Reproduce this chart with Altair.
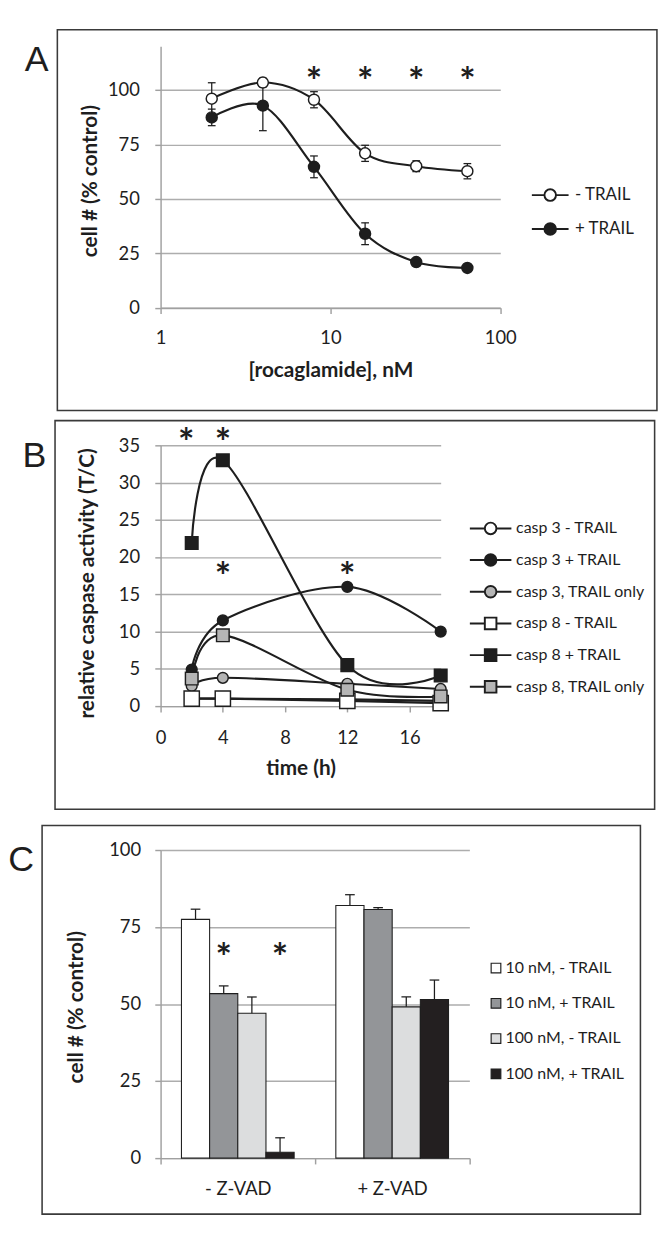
import altair as alt
import pandas as pd

FONT = "Lato"
INK = "#1e1e1e"
GRID = "#adadad"
AXC = "#a0a0a0"
BOX = "#3a3a3a"

# ---------------- Panel A data ----------------
rocaglamide_nm = [2, 4, 8, 16, 32, 64]
a_series = ["- TRAIL", "+ TRAIL"]
a_minus_trail = [96.0, 103.4, 95.5, 70.9, 65.0, 62.7]
a_minus_trail_err = [7.3, 2.0, 3.7, 3.7, 2.5, 3.5]
a_plus_trail = [87.4, 92.8, 64.7, 34.0, 21.0, 18.3]
a_plus_trail_err = [3.8, 11.5, 5.0, 5.0, 1.0, 1.0]
a_star_conc = [8, 16, 32, 64]
a_star_level = [107, 107, 107, 107]
a_x_ticks = [1, 10, 100]
a_y_ticks = [0, 25, 50, 75, 100]

# ---------------- Panel B data ----------------
time_h = [2, 4, 12, 18]
b_series = ["casp 3 - TRAIL", "casp 3 + TRAIL", "casp 3, TRAIL only",
            "casp 8 - TRAIL", "casp 8 + TRAIL", "casp 8, TRAIL only"]
casp3_minus_trail = [1.0, 1.0, 0.9, 0.7]
casp3_plus_trail = [4.9, 11.5, 16.0, 10.0]
casp3_trail_only = [2.7, 3.8, 3.0, 2.3]
casp8_minus_trail = [1.0, 1.0, 0.7, 0.4]
casp8_plus_trail = [21.9, 33.0, 5.5, 4.1]
casp8_trail_only = [3.7, 9.5, 2.2, 1.3]
b_star_time = [1.65, 4, 4, 12]
b_star_level = [36.3, 36.3, 18.4, 18.4]
b_x_ticks = [0, 4, 8, 12, 16]
b_y_ticks = [0, 5, 10, 15, 20, 25, 30, 35]

# ---------------- Panel C data ----------------
zvad = ["- Z-VAD", "+ Z-VAD"]
c_conds = ["10 nM, - TRAIL", "10 nM, + TRAIL", "100 nM, - TRAIL", "100 nM, + TRAIL"]
c_minus_zvad = [77.5, 53.4, 47.0, 1.9]
c_minus_zvad_err = [3.3, 2.5, 5.3, 4.7]
c_plus_zvad = [82.0, 80.7, 49.1, 51.5]
c_plus_zvad_err = [3.5, 0.6, 3.2, 6.3]
c_star_group = ["- Z-VAD", "- Z-VAD"]
c_star_cond = ["10 nM, + TRAIL", "100 nM, + TRAIL"]
c_star_level = [67.6, 67.6]
c_y_ticks = [0, 25, 50, 75, 100]


# ---------------- helpers ----------------
def fmt(v):
    return f"{v:.3f}".rstrip("0").rstrip(".")


def circle_path(a):
    k = 0.5523 * a
    p = [(-a, 0), (-a, -k), (-k, -a), (0, -a), (k, -a), (a, -k), (a, 0),
         (a, k), (k, a), (0, a), (-k, a), (-a, k), (-a, 0)]
    s = f"M{fmt(p[0][0])},{fmt(p[0][1])}"
    for i in range(1, 13, 3):
        s += "C" + ",".join(f"{fmt(x)},{fmt(y)}" for x, y in p[i:i + 3])
    return s + "Z"


def square_path(a):
    return (f"M{fmt(-a)},{fmt(-a)}L{fmt(a)},{fmt(-a)}L{fmt(a)},{fmt(a)}"
            f"L{fmt(-a)},{fmt(a)}Z")


def line_path(half, gap):
    return f"M{fmt(-half)},0L{fmt(-gap)},0M{fmt(gap)},0L{fmt(half)},0"


def box(name, x1, x2, y1, y2):
    return alt.Chart(pd.DataFrame({"panel": [name]})).mark_rect(
        fillOpacity=0, stroke=BOX, strokeWidth=1.6
    ).encode(x=alt.value(x1), x2=alt.value(x2), y=alt.value(y1), y2=alt.value(y2))


def letter(name, x, y):
    return alt.Chart(pd.DataFrame({"panel": [name]})).mark_text(
        font="Liberation Sans", fontSize=37, align="left", baseline="middle", color=INK
    ).encode(x=alt.value(x), y=alt.value(y), text="panel:N")


def axis_common(**kw):
    base = dict(domainColor=AXC, domainWidth=1.5, tickColor=AXC, tickWidth=1.5, tickSize=6,
                labelFont=FONT, labelFontSize=19, labelColor=INK,
                titleFont=FONT, titleFontSize=21.5, titleFontWeight="bold", titleColor=INK,
                titleAlign="center", titleBaseline="middle")
    base.update(kw)
    return alt.Axis(**base)


def star_mark():
    return dict(text="*", font=FONT, fontSize=40, fontWeight="bold", color=INK,
                baseline="alphabetic", dy=21.5)


SMOOTH = dict(interpolate="cardinal", tension=0, color=INK, strokeWidth=2.2)

# ================= Panel A =================
WA, HA = 351.7, 270.7
rows = []
for s, vals, errs in zip(a_series, [a_minus_trail, a_plus_trail], [a_minus_trail_err, a_plus_trail_err]):
    for c, v, e in zip(rocaglamide_nm, vals, errs):
        rows.append({"conc": c, "value": v, "lo": v - e, "hi": v + e, "series": s})
dfA = pd.DataFrame(rows)
dfA_star = pd.DataFrame({"conc": a_star_conc, "value": a_star_level})

xA = alt.X("conc:Q", scale=alt.Scale(type="log", domain=[1, 100], nice=False),
           axis=axis_common(values=a_x_ticks, format="d", grid=False, labelFlush=False,
                            labelPadding=16, title="[rocaglamide], nM",
                            titleX=WA / 2, titleY=65))
yA_scale = alt.Scale(domain=[0, 120], nice=False)
yA_axis = axis_common(values=a_y_ticks, grid=True, gridColor=GRID, gridWidth=1.5,
                      labelPadding=16, title="cell # (% control)", titleAngle=270,
                      titleX=-72, titleY=139)


def yA(field):
    return alt.Y(f"{field}:Q", scale=yA_scale, axis=yA_axis)


fillA_scale = alt.Scale(domain=a_series, range=["white", INK])
legend_path_A = line_path(1.9, 0.6) + circle_path(0.6)

boxA = box("A", -106.9, 513.9, -17.2, 377)
letA = letter("A", -140.6, 14.4)
lineA = alt.Chart(dfA).mark_line(**SMOOTH).encode(
    x=xA, y=yA("value"), detail="series:N", order="conc:Q")
errA = alt.Chart(dfA).mark_rule(color=INK, strokeWidth=1.3).encode(x=xA, y=yA("lo"), y2="hi:Q")
capLoA = alt.Chart(dfA).mark_tick(orient="horizontal", size=8, thickness=1.3, color=INK, opacity=1).encode(
    x=xA, y=yA("lo"))
capHiA = alt.Chart(dfA).mark_tick(orient="horizontal", size=8, thickness=1.3, color=INK, opacity=1).encode(
    x=xA, y=yA("hi"))
ptsA = alt.Chart(dfA).mark_point(shape="circle", filled=True, size=130, opacity=1, stroke=INK,
                                 strokeWidth=1.5).encode(
    x=xA, y=yA("value"), fill=alt.Fill("series:N", scale=fillA_scale, legend=None))
legA = alt.Chart(dfA).transform_filter("false").mark_point(
    filled=True, opacity=1, stroke=INK, strokeWidth=2).encode(
    x=xA, y=yA("value"),
    fill=alt.Fill("series:N", scale=fillA_scale,
                  legend=alt.Legend(title=None, orient="none", legendX=392.4, legendY=143,
                                    symbolType=legend_path_A, symbolSize=400,
                                    symbolStrokeColor=INK, symbolStrokeWidth=2, symbolOpacity=1,
                                    labelFont=FONT, labelFontSize=17.5, labelColor=INK,
                                    labelOffset=14.6, rowPadding=14)))
starA = alt.Chart(dfA_star).mark_text(**star_mark()).encode(x=xA, y=yA("value"))

panelA = alt.layer(boxA, letA, lineA, errA, capLoA, capHiA, ptsA, legA, starA).resolve_scale(
    fill="independent").properties(width=WA, height=HA)

# ================= Panel B =================
WB, HB = 290, 270
rows = []
for s, vals in zip(b_series, [casp3_minus_trail, casp3_plus_trail, casp3_trail_only,
                              casp8_minus_trail, casp8_plus_trail, casp8_trail_only]):
    for t, v in zip(time_h, vals):
        rows.append({"time": t, "activity": v, "series": s})
dfB = pd.DataFrame(rows)
dfB_star = pd.DataFrame({"time": b_star_time, "activity": b_star_level})

xB = alt.X("time:Q", scale=alt.Scale(domain=[0, 18], nice=False),
           axis=axis_common(values=b_x_ticks, grid=False, labelFlush=False, labelPadding=17.5,
                            title="time (h)", titleX=145, titleY=64.7))
yB_scale = alt.Scale(domain=[0, 35], nice=False)
yB_axis = axis_common(values=b_y_ticks, grid=True, gridColor=GRID, gridWidth=1.5,
                      labelPadding=15.7, title="relative caspase activity (T/C)", titleAngle=270,
                      titleX=-75.7, titleY=142.5)
yB = alt.Y("activity:Q", scale=yB_scale, axis=yB_axis)
b_fills = ["white", INK, "#b5b5b5", "white", INK, "#b5b5b5"]
fillB_scale = alt.Scale(domain=b_series, range=b_fills)
path_c = line_path(2.15, 0.6) + circle_path(0.6)
path_s = line_path(2.15, 0.6) + square_path(0.6)
shapeB_legend_scale = alt.Scale(domain=b_series, range=[path_c] * 3 + [path_s] * 3)
strokeB_legend_scale = alt.Scale(domain=b_series, range=[INK] * 6)
legB_props = dict(title=None, orient="none", legendX=330.7, legendY=75, symbolSize=400,
                  symbolStrokeColor=INK, symbolStrokeWidth=2, symbolOpacity=1,
                  labelFont=FONT, labelFontSize=16.5, labelColor=INK, labelOffset=15.3,
                  rowPadding=11.8)

boxB = box("B", -109.3, 511.5, -25.6, 376.7)
letB = letter("B", -143, 11.8)
lineB = alt.Chart(dfB).mark_line(**SMOOTH).encode(
    x=xB, y=yB, detail="series:N", order="time:Q")
circB = alt.Chart(dfB).transform_filter(
    alt.FieldOneOfPredicate(field="series", oneOf=b_series[:3])).mark_point(
    shape="circle", filled=True, size=125, opacity=1, stroke=INK, strokeWidth=1.5).encode(
    x=xB, y=yB, fill=alt.Fill("series:N", scale=fillB_scale, legend=None))
sqB = alt.Chart(dfB).transform_filter(
    alt.FieldOneOfPredicate(field="series", oneOf=b_series[3:])).mark_point(
    shape="square", filled=True, opacity=1, stroke=INK, strokeWidth=1.5).encode(
    x=xB, y=yB, fill=alt.Fill("series:N", scale=fillB_scale, legend=None),
    size=alt.condition(alt.datum.series == "casp 8 - TRAIL", alt.value(250), alt.value(170)))
legB = alt.Chart(dfB).transform_filter("false").mark_point(
    filled=True, opacity=1, stroke=INK, strokeWidth=2).encode(
    x=xB, y=yB,
    shape=alt.Shape("series:N", scale=shapeB_legend_scale, legend=alt.Legend(**legB_props)),
    fill=alt.Fill("series:N", scale=fillB_scale, legend=alt.Legend(**legB_props)),
    stroke=alt.Stroke("series:N", scale=strokeB_legend_scale, legend=alt.Legend(**legB_props)))
starB = alt.Chart(dfB_star).mark_text(**star_mark()).encode(x=xB, y=yB)

panelB = alt.layer(boxB, letB, lineB, circB, sqB, legB, starB).resolve_scale(
    fill="independent", shape="independent", stroke="independent").properties(width=WB, height=HB)

# ================= Panel C =================
WC, HC = 319.7, 319
rows = []
for g, vals, errs in zip(zvad, [c_minus_zvad, c_plus_zvad], [c_minus_zvad_err, c_plus_zvad_err]):
    for cnd, v, e in zip(c_conds, vals, errs):
        rows.append({"zvad": g, "cond": cnd, "value": v, "hi": v + e})
dfC = pd.DataFrame(rows)
dfC_star = pd.DataFrame({"zvad": c_star_group, "cond": c_star_cond, "value": c_star_level})

xC = alt.X("zvad:N", sort=zvad, scale=alt.Scale(domain=zvad, paddingInner=0, paddingOuter=0),
           axis=axis_common(tickBand="extent", labelAngle=0, labelPadding=16.8, title=None, grid=False))
xoC = alt.XOffset("cond:N", sort=c_conds,
                  scale=alt.Scale(domain=c_conds, paddingInner=0, paddingOuter=0.74))
yC_scale = alt.Scale(domain=[0, 100], nice=False)
yC_axis = axis_common(values=c_y_ticks, grid=True, gridColor=GRID, gridWidth=1.5,
                      labelPadding=14.7, title="cell # (% control)", titleAngle=270,
                      titleX=-86.7, titleY=162.3)


def yC(field):
    return alt.Y(f"{field}:Q", scale=yC_scale, axis=yC_axis)


c_fills = ["#ffffff", "#939598", "#dcddde", "#231f20"]
boxC = box("C", -122.7, 496.8, -25.3, 377)
letC = letter("C", -157.7, 11.1)
barsC = alt.Chart(dfC).mark_bar(stroke=INK, strokeWidth=1.1).encode(
    x=xC, xOffset=xoC, y=yC("value"),
    fill=alt.Fill("cond:N", scale=alt.Scale(domain=c_conds, range=c_fills),
                  legend=alt.Legend(title=None, orient="none", legendX=339, legendY=114,
                                    symbolType="square", symbolSize=100,
                                    symbolStrokeColor=INK, symbolStrokeWidth=1.2, symbolOpacity=1,
                                    labelFont=FONT, labelFontSize=16.5, labelColor=INK,
                                    labelOffset=1.5, rowPadding=19.5)))
errC = alt.Chart(dfC).mark_rule(color=INK, strokeWidth=1.3).encode(
    x=xC, xOffset=xoC, y=yC("value"), y2="hi:Q")
capC = alt.Chart(dfC).mark_tick(orient="horizontal", size=10, thickness=1.3, color=INK, opacity=1).encode(
    x=xC, xOffset=xoC, y=yC("hi"))
starC = alt.Chart(dfC_star).mark_text(**star_mark()).encode(
    x=xC, xOffset=xoC, y=yC("value"))

panelC = alt.layer(boxC, letC, barsC, errC, capC, starC).properties(width=WC, height=HC)

# ================= Layout =================
topAB = alt.concat(panelA, panelB, columns=1, spacing=8.1, align="none").resolve_scale(
    fill="independent", shape="independent", stroke="independent")
chart = alt.concat(topAB, panelC, columns=1, spacing=14.1, align="none").resolve_scale(
    fill="independent", shape="independent", stroke="independent").properties(
    padding=0).configure_view(strokeWidth=0)

chart.save("out.html", embed_options={"renderer": "svg", "actions": False})
